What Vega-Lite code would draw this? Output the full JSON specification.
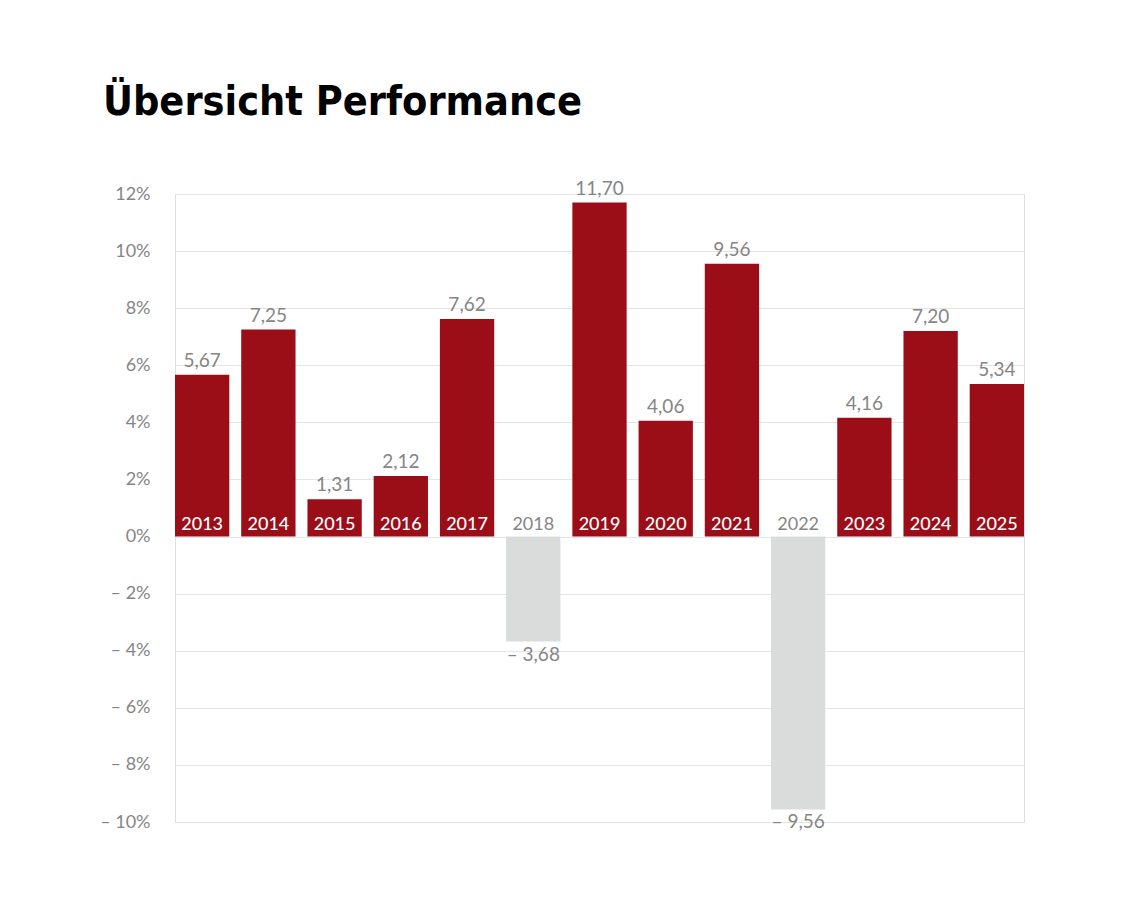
{
  "$schema": "https://vega.github.io/schema/vega-lite/v6.json",
  "width": 849,
  "height": 628,
  "autosize": {"type": "none"},
  "padding": {"left": 175, "top": 194, "right": 119, "bottom": 91},
  "background": "white",
  "config": {
    "locale": {"number": {"decimal": ",", "thousands": ".", "grouping": [3], "currency": ["", " €"], "minus": "– "}},
    "view": {"stroke": "#dedede", "strokeWidth": 1},
    "font": "Lato"
  },
  "title": {
    "text": "Übersicht Performance",
    "anchor": "start",
    "frame": "group",
    "dx": -72,
    "offset": 24,
    "baseline": "alphabetic",
    "font": "DejaVu Sans Condensed",
    "fontSize": 41,
    "fontWeight": "bold",
    "color": "#000000"
  },
  "data": {
    "values": [
      {"year": "2013", "value": 5.67},
      {"year": "2014", "value": 7.25},
      {"year": "2015", "value": 1.31},
      {"year": "2016", "value": 2.12},
      {"year": "2017", "value": 7.62},
      {"year": "2018", "value": -3.68},
      {"year": "2019", "value": 11.70},
      {"year": "2020", "value": 4.06},
      {"year": "2021", "value": 9.56},
      {"year": "2022", "value": -9.56},
      {"year": "2023", "value": 4.16},
      {"year": "2024", "value": 7.20},
      {"year": "2025", "value": 5.34}
    ]
  },
  "encoding": {
    "x": {"field": "year", "type": "nominal", "sort": null, "scale": {"paddingInner": 0.18, "paddingOuter": 0}, "axis": null}
  },
  "layer": [
    {
      "mark": {"type": "bar"},
      "encoding": {
        "y": {
          "field": "value", "type": "quantitative",
          "scale": {"domain": [-10, 12], "nice": false, "zero": true},
          "axis": {
            "title": null,
            "values": [-10, -8, -6, -4, -2, 0, 2, 4, 6, 8, 10, 12],
            "labelExpr": "format(datum.value, 'd') + '%'",
            "domain": false,
            "ticks": false,
            "tickSize": 0,
            "labelPadding": 25,
            "labelFontSize": 18,
            "labelFontWeight": 400,
            "labelColor": "#858585",
            "labelFont": "Lato",
            "gridColor": "#e4e4e4",
            "gridWidth": 1
          }
        },
        "color": {"condition": {"test": "datum.value < 0", "value": "#D9DCDB"}, "value": "#9B0E18"}
      }
    },
    {
      "transform": [{"filter": "datum.value >= 0"}],
      "mark": {"type": "text", "baseline": "alphabetic", "dy": -7, "fontSize": 18, "fontWeight": 500, "color": "#ffffff"},
      "encoding": {
        "y": {"datum": 0, "type": "quantitative"},
        "text": {"field": "year"}
      }
    },
    {
      "transform": [{"filter": "datum.value < 0"}],
      "mark": {"type": "text", "baseline": "alphabetic", "dy": -7, "fontSize": 18, "fontWeight": 400, "color": "#858585"},
      "encoding": {
        "y": {"datum": 0, "type": "quantitative"},
        "text": {"field": "year"}
      }
    },
    {
      "transform": [{"filter": "datum.value >= 0"}],
      "mark": {"type": "text", "baseline": "bottom", "dy": -4, "fontSize": 19, "fontWeight": 400, "color": "#858585"},
      "encoding": {
        "y": {"field": "value", "type": "quantitative"},
        "text": {"field": "value", "type": "quantitative", "format": ".2f"}
      }
    },
    {
      "transform": [{"filter": "datum.value < 0"}],
      "mark": {"type": "text", "baseline": "top", "dy": 4, "fontSize": 19, "fontWeight": 400, "color": "#858585"},
      "encoding": {
        "y": {"field": "value", "type": "quantitative"},
        "text": {"field": "value", "type": "quantitative", "format": ".2f"}
      }
    }
  ]
}
